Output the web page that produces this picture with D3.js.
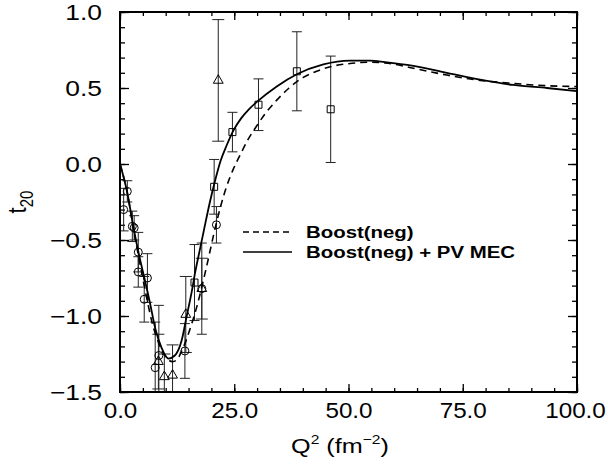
<!DOCTYPE html>
<html><head><meta charset="utf-8">
<script src="https://cdn.jsdelivr.net/npm/d3@7"></script>
<style>body{margin:0;background:#fff}</style>
</head><body>
<svg id="c" width="608" height="464"></svg>
<script>
// ---- data ----
const xTicks = [0, 25, 50, 75, 100];
const xTickLabels = ["0.0", "25.0", "50.0", "75.0", "100.0"];
const yTicks = [-1.5, -1.0, -0.5, 0.0, 0.5, 1.0];
const yTickLabels = ["\u22121.5", "\u22121.0", "\u22120.5", "0.0", "0.5", "1.0"];

const solidX = [0, 1.6, 2.9, 4.4, 5.1, 6.6, 7.7, 9.1, 10.6, 12.0, 13.5, 14.6, 15.7, 16.4, 17.5, 18.4, 19.6, 20.8, 22.0, 23.3, 24.8, 26.5, 28.2, 30.0, 34.3, 38.7, 44.5, 50.3, 54.7, 58.0, 64.2, 71.5, 78.8, 86.1, 93.4, 100];
const solidY = [0, -0.19, -0.41, -0.63, -0.72, -0.92, -1.08, -1.21, -1.28, -1.26, -1.16, -1.00, -0.84, -0.72, -0.56, -0.43, -0.26, -0.11, 0.02, 0.12, 0.22, 0.30, 0.36, 0.41, 0.51, 0.59, 0.655, 0.68, 0.68, 0.67, 0.645, 0.60, 0.555, 0.52, 0.50, 0.48];

const dashX = [0, 1.6, 2.9, 4.4, 5.7, 7.0, 8.5, 10.0, 11.5, 12.4, 13.5, 14.6, 15.6, 16.8, 18.6, 21.0, 22.1, 23.3, 24.7, 26.3, 28.0, 29.9, 32.0, 34.3, 37.0, 40.1, 43.0, 46.0, 50.0, 54.7, 58.0, 64.2, 71.5, 78.8, 86.1, 93.4, 100];
const dashY = [0, -0.19, -0.42, -0.66, -0.86, -1.04, -1.18, -1.27, -1.30, -1.29, -1.23, -1.15, -1.06, -0.94, -0.72, -0.40, -0.27, -0.15, -0.04, 0.06, 0.16, 0.25, 0.34, 0.42, 0.50, 0.57, 0.61, 0.64, 0.66, 0.67, 0.665, 0.63, 0.585, 0.55, 0.53, 0.515, 0.51];

const circX = [0.8, 1.6, 2.7, 3.1, 4.0, 4.0, 5.3, 6.0, 7.7, 8.5, 14.2, 17.9, 21.1];
const circY = [-0.30, -0.18, -0.41, -0.42, -0.58, -0.71, -0.89, -0.75, -1.34, -1.26, -1.23, -0.82, -0.40];
const circE = [0.14, 0.07, 0.10, 0.08, 0.13, 0.10, 0.15, 0.16, 0.30, 0.33, 0.18, 0.30, 0.12];

const triX = [8.4, 9.7, 11.5, 14.4, 17.9, 21.5];
const triY = [-1.30, -1.40, -1.39, -0.99, -0.82, 0.55];
const triE = [0.18, 0.15, 0.20, 0.25, 0.20, 0.40];

const sqX = [16.3, 20.6, 24.6, 30.3, 38.7, 46.1];
const sqY = [-0.78, -0.15, 0.21, 0.39, 0.61, 0.36];
const sqE = [0.25, 0.18, 0.13, 0.17, 0.26, 0.35];

const legendLabels = ["Boost(neg)", "Boost(neg) + PV MEC"];

// ---- drawing ----
const L = 120, R = 577, T = 12, B = 392;
const SX = 1.2, SXX = 1.1;
const font = '"Liberation Sans", Arial, Helvetica, sans-serif';
const x = d3.scaleLinear().domain([0, 100]).range([L, R]);
const y = d3.scaleLinear().domain([-1.5, 1]).range([B, T]);
const svg = d3.select('#c');

svg.append('clipPath').attr('id', 'clip').append('rect')
  .attr('x', L).attr('y', T).attr('width', R - L).attr('height', B - T);

const xMinor = d3.range(0, 100.01, 5);
const yMinor = d3.range(-15, 10.01, 1).map(v => v / 10);

function styleAxis(g) {
  g.select('.domain').remove();
  g.selectAll('line').attr('stroke', '#000').attr('stroke-width', 1.3);
}
// minor ticks
svg.append('g').attr('transform', `translate(0,${B})`).call(d3.axisBottom(x).tickValues(xMinor).tickSize(-4).tickFormat('')).call(styleAxis);
svg.append('g').attr('transform', `translate(0,${T})`).call(d3.axisTop(x).tickValues(xMinor).tickSize(-4).tickFormat('')).call(styleAxis);
svg.append('g').attr('transform', `translate(${L},0)`).call(d3.axisLeft(y).tickValues(yMinor).tickSize(-5).tickFormat('')).call(styleAxis);
svg.append('g').attr('transform', `translate(${R},0)`).call(d3.axisRight(y).tickValues(yMinor).tickSize(-5).tickFormat('')).call(styleAxis);
// major ticks
const gx = svg.append('g').attr('transform', `translate(0,${B})`)
  .call(d3.axisBottom(x).tickValues(xTicks).tickSize(-8).tickPadding(10).tickFormat((d, i) => xTickLabels[i])).call(styleAxis);
gx.selectAll('text').attr('font-size', 22).attr('font-family', font).attr('fill', '#000')
  .attr('transform', (d, i) => i === xTicks.length - 1 ? `translate(-2,0) scale(${SXX},1)` : `scale(${SXX},1)`);
const gy = svg.append('g').attr('transform', `translate(${L},0)`)
  .call(d3.axisLeft(y).tickValues(yTicks).tickSize(-9).tickFormat((d, i) => yTickLabels[i])).call(styleAxis);
gy.selectAll('text').attr('font-size', 22).attr('font-family', font).attr('fill', '#000')
  .attr('x', -18 / SX).attr('dy', '0.36em').attr('transform', `scale(${SX},1)`);
svg.append('g').attr('transform', `translate(0,${T})`).call(d3.axisTop(x).tickValues(xTicks).tickSize(-8).tickFormat('')).call(styleAxis);
svg.append('g').attr('transform', `translate(${R},0)`).call(d3.axisRight(y).tickValues(yTicks).tickSize(-9).tickFormat('')).call(styleAxis);

// data layer
const plot = svg.append('g').attr('clip-path', 'url(#clip)');

function errBars(xs, ys, es, cap) {
  const g = plot.append('g').attr('stroke', '#222').attr('stroke-width', 1).attr('fill', 'none');
  xs.forEach((xv, i) => {
    const px = x(xv), y1 = y(ys[i] + es[i]), y2 = y(ys[i] - es[i]);
    g.append('line').attr('x1', px).attr('x2', px).attr('y1', y1).attr('y2', y2);
    g.append('line').attr('x1', px - cap).attr('x2', px + cap).attr('y1', y1).attr('y2', y1);
    g.append('line').attr('x1', px - cap).attr('x2', px + cap).attr('y1', y2).attr('y2', y2);
  });
}
errBars(circX, circY, circE, 5);
errBars(triX, triY, triE, 6);
errBars(sqX, sqY, sqE, 5);

const line = d3.line().x(d => x(d[0])).y(d => y(d[1])).curve(d3.curveMonotoneX);
plot.append('path').datum(dashX.map((v, i) => [v, dashY[i]])).attr('d', line)
  .attr('fill', 'none').attr('stroke', '#000').attr('stroke-width', 1.6).attr('stroke-dasharray', '7,5');
plot.append('path').datum(solidX.map((v, i) => [v, solidY[i]])).attr('d', line)
  .attr('fill', 'none').attr('stroke', '#000').attr('stroke-width', 1.8);

// markers
plot.append('g').selectAll('circle').data(circX).join('circle')
  .attr('cx', d => x(d)).attr('cy', (d, i) => y(circY[i])).attr('r', 4)
  .attr('fill', 'none').attr('stroke', '#000').attr('stroke-width', 1);
const tri = d3.symbol(d3.symbolTriangle, 42);
plot.append('g').selectAll('path').data(triX).join('path')
  .attr('transform', (d, i) => `translate(${x(d)},${y(triY[i])})`).attr('d', tri)
  .attr('fill', 'none').attr('stroke', '#000').attr('stroke-width', 1);
const sq = d3.symbol(d3.symbolSquare, 49);
plot.append('g').selectAll('path').data(sqX).join('path')
  .attr('transform', (d, i) => `translate(${x(d)},${y(sqY[i])})`).attr('d', sq)
  .attr('fill', 'none').attr('stroke', '#000').attr('stroke-width', 1);

// frame
svg.append('rect').attr('x', L).attr('y', T).attr('width', R - L).attr('height', B - T)
  .attr('fill', 'none').attr('stroke', '#000').attr('stroke-width', 2);

// legend
const leg = svg.append('g');
[0, 1].forEach(i => {
  const ly = 232 + i * 20;
  leg.append('line').attr('x1', 243).attr('x2', 292).attr('y1', ly).attr('y2', ly)
    .attr('stroke', '#000').attr('stroke-width', 1.6)
    .attr('stroke-dasharray', i === 0 ? '6,4' : null);
  leg.append('text').attr('transform', `translate(306,${ly}) scale(${SX},1)`)
    .attr('dy', '0.36em').attr('font-family', font).attr('font-weight', 'bold')
    .attr('font-size', 17).attr('fill', '#000').text(legendLabels[i]);
});

// axis titles
const xt = svg.append('text').attr('transform', `translate(340,453) scale(${SX},1)`)
  .attr('text-anchor', 'middle').attr('font-family', font).attr('font-size', 21).attr('fill', '#000');
xt.append('tspan').text('Q');
xt.append('tspan').attr('dy', -9).attr('font-size', 13).text('2');
xt.append('tspan').attr('dy', 9).text(' (fm');
xt.append('tspan').attr('dy', -9).attr('font-size', 13).text('\u22122');
xt.append('tspan').attr('dy', 9).text(')');

const yt = svg.append('text').attr('transform', `translate(26,202) rotate(-90) scale(1,${SX})`)
  .attr('text-anchor', 'middle').attr('font-family', font).attr('font-size', 22).attr('fill', '#000');
yt.append('tspan').text('t');
yt.append('tspan').attr('dy', 6).attr('font-size', 15).text('20');
</script>
</body></html>
